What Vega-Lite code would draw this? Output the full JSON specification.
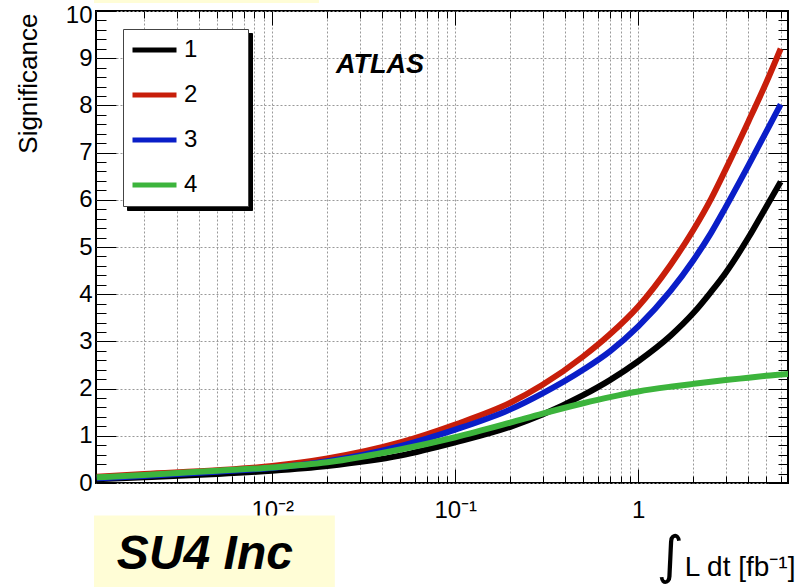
{
  "$schema": "https://vega.github.io/schema/vega-lite/v6.json",
  "width": 692,
  "height": 472,
  "autosize": {"type": "none"},
  "padding": {"left": 96, "top": 11, "right": 11, "bottom": 104},
  "background": "white",
  "config": {"view": {"stroke": "black", "strokeWidth": 2}, "font": "Liberation Sans"},
  "data": {"values": [
    {"series": "1", "x": 0.0011, "s": 0.08},
    {"series": "1", "x": 0.002, "s": 0.12},
    {"series": "1", "x": 0.005, "s": 0.19},
    {"series": "1", "x": 0.01, "s": 0.26},
    {"series": "1", "x": 0.02, "s": 0.36},
    {"series": "1", "x": 0.05, "s": 0.58},
    {"series": "1", "x": 0.1, "s": 0.86},
    {"series": "1", "x": 0.2, "s": 1.19},
    {"series": "1", "x": 0.3, "s": 1.45},
    {"series": "1", "x": 0.5, "s": 1.86},
    {"series": "1", "x": 0.7, "s": 2.18},
    {"series": "1", "x": 1.0, "s": 2.58},
    {"series": "1", "x": 1.5, "s": 3.12},
    {"series": "1", "x": 2.0, "s": 3.6},
    {"series": "1", "x": 2.5, "s": 4.05},
    {"series": "1", "x": 3.0, "s": 4.45},
    {"series": "1", "x": 4.0, "s": 5.2},
    {"series": "1", "x": 5.0, "s": 5.85},
    {"series": "1", "x": 6.0, "s": 6.38},
    {"series": "2", "x": 0.0011, "s": 0.13},
    {"series": "2", "x": 0.002, "s": 0.19},
    {"series": "2", "x": 0.005, "s": 0.27},
    {"series": "2", "x": 0.01, "s": 0.36},
    {"series": "2", "x": 0.02, "s": 0.52},
    {"series": "2", "x": 0.05, "s": 0.86},
    {"series": "2", "x": 0.1, "s": 1.24},
    {"series": "2", "x": 0.2, "s": 1.70},
    {"series": "2", "x": 0.3, "s": 2.08},
    {"series": "2", "x": 0.5, "s": 2.68},
    {"series": "2", "x": 0.7, "s": 3.15},
    {"series": "2", "x": 1.0, "s": 3.74},
    {"series": "2", "x": 1.5, "s": 4.62},
    {"series": "2", "x": 2.0, "s": 5.36},
    {"series": "2", "x": 2.5, "s": 6.02},
    {"series": "2", "x": 3.0, "s": 6.64},
    {"series": "2", "x": 4.0, "s": 7.66},
    {"series": "2", "x": 5.0, "s": 8.48},
    {"series": "2", "x": 6.0, "s": 9.2},
    {"series": "3", "x": 0.0011, "s": 0.10},
    {"series": "3", "x": 0.002, "s": 0.15},
    {"series": "3", "x": 0.005, "s": 0.24},
    {"series": "3", "x": 0.01, "s": 0.32},
    {"series": "3", "x": 0.02, "s": 0.46},
    {"series": "3", "x": 0.05, "s": 0.78},
    {"series": "3", "x": 0.1, "s": 1.13},
    {"series": "3", "x": 0.2, "s": 1.56},
    {"series": "3", "x": 0.3, "s": 1.90},
    {"series": "3", "x": 0.5, "s": 2.40},
    {"series": "3", "x": 0.7, "s": 2.79},
    {"series": "3", "x": 1.0, "s": 3.32},
    {"series": "3", "x": 1.5, "s": 4.07},
    {"series": "3", "x": 2.0, "s": 4.72},
    {"series": "3", "x": 2.5, "s": 5.3},
    {"series": "3", "x": 3.0, "s": 5.84},
    {"series": "3", "x": 4.0, "s": 6.73},
    {"series": "3", "x": 5.0, "s": 7.44},
    {"series": "3", "x": 6.0, "s": 8.02},
    {"series": "4", "x": 0.0011, "s": 0.12},
    {"series": "4", "x": 0.002, "s": 0.17},
    {"series": "4", "x": 0.005, "s": 0.26},
    {"series": "4", "x": 0.01, "s": 0.33},
    {"series": "4", "x": 0.02, "s": 0.44},
    {"series": "4", "x": 0.05, "s": 0.71},
    {"series": "4", "x": 0.1, "s": 0.97},
    {"series": "4", "x": 0.2, "s": 1.28},
    {"series": "4", "x": 0.3, "s": 1.47},
    {"series": "4", "x": 0.5, "s": 1.69},
    {"series": "4", "x": 0.7, "s": 1.82},
    {"series": "4", "x": 1.0, "s": 1.94},
    {"series": "4", "x": 1.5, "s": 2.04},
    {"series": "4", "x": 2.0, "s": 2.10},
    {"series": "4", "x": 3.0, "s": 2.18},
    {"series": "4", "x": 4.0, "s": 2.23},
    {"series": "4", "x": 5.0, "s": 2.27},
    {"series": "4", "x": 6.6, "s": 2.31}
  ]},
  "layer": [
    {
      "data": {"values": [{}]},
      "mark": {"type": "rect", "color": "#fffdd6"},
      "encoding": {
        "x": {"datum": 0.001062, "type": "quantitative", "scale": {"type": "log", "domain": [0.001089, 6.58], "nice": false}, "axis": null},
        "x2": {"datum": 0.02198},
        "y": {"datum": -0.688, "type": "quantitative", "scale": {"domain": [0, 10], "nice": false, "zero": false}, "axis": null},
        "y2": {"datum": -2.4}
      }
    },
    {
      "data": {"values": [{}]},
      "mark": {"type": "rect", "color": "#fffdd6"},
      "encoding": {
        "x": {"datum": 0.001062, "type": "quantitative", "scale": {"type": "log", "domain": [0.001089, 6.58], "nice": false}, "axis": null},
        "x2": {"datum": 0.018},
        "y": {"datum": 10.17, "type": "quantitative", "scale": {"domain": [0, 10], "nice": false, "zero": false}, "axis": null},
        "y2": {"datum": 10.5}
      }
    },
    {
      "mark": {"type": "line", "strokeWidth": 6, "interpolate": "monotone", "clip": true},
      "encoding": {
        "x": {
          "field": "x", "type": "quantitative",
          "scale": {"type": "log", "domain": [0.001089, 6.58], "nice": false},
          "axis": {
            "orient": "bottom",
            "values": [0.002, 0.003, 0.004, 0.005, 0.006, 0.007, 0.008, 0.009, 0.01, 0.02, 0.03, 0.04, 0.05, 0.06, 0.07, 0.08, 0.09, 0.1, 0.2, 0.3, 0.4, 0.5, 0.6, 0.7, 0.8, 0.9, 1, 2, 3, 4, 5, 6],
            "labelExpr": "datum.value == 0.01 ? '10⁻²' : datum.value == 0.1 ? '10⁻¹' : datum.value == 1 ? '1' : ''",
            "tickSize": {"condition": {"test": "datum.value == 0.01 || datum.value == 0.1 || datum.value == 1", "value": -14}, "value": -7},
            "tickColor": "black",
            "tickWidth": 1,
            "domain": false,
            "grid": true,
            "gridDash": [2, 2],
            "gridColor": "#999999",
            "gridWidth": 1,
            "labelFontSize": 24,
            "labelFont": "Liberation Sans",
            "labelColor": "black",
            "labelPadding": 29,
            "labelOverlap": false,
            "labelBound": false,
            "labelFlush": false,
            "title": null
          }
        },
        "y": {
          "field": "s", "type": "quantitative",
          "scale": {"domain": [0, 10], "nice": false, "zero": false},
          "axis": {
            "orient": "left",
            "values": [0, 0.2, 0.4, 0.6, 0.8, 1, 1.2, 1.4, 1.6, 1.8, 2, 2.2, 2.4, 2.6, 2.8, 3, 3.2, 3.4, 3.6, 3.8, 4, 4.2, 4.4, 4.6, 4.8, 5, 5.2, 5.4, 5.6, 5.8, 6, 6.2, 6.4, 6.6, 6.8, 7, 7.2, 7.4, 7.6, 7.8, 8, 8.2, 8.4, 8.6, 8.8, 9, 9.2, 9.4, 9.6, 9.8, 10],
            "labelExpr": "abs(datum.value - round(datum.value)) < 0.001 ? format(datum.value, 'd') : ''",
            "labelOffset": {"condition": {"test": "datum.value == 10", "value": 4}, "value": 0},
            "tickSize": {"condition": {"test": "abs(datum.value - round(datum.value)) < 0.001", "value": -20}, "value": -10},
            "gridOpacity": {"condition": {"test": "abs(datum.value - round(datum.value)) < 0.001", "value": 1}, "value": 0},
            "tickColor": "black",
            "tickWidth": 1,
            "domain": false,
            "grid": true,
            "gridDash": [2, 2],
            "gridColor": "#999999",
            "gridWidth": 1,
            "labelFontSize": 24,
            "labelFont": "Liberation Sans",
            "labelColor": "black",
            "labelPadding": 24,
            "labelOverlap": false,
            "labelBound": false,
            "labelFlush": false,
            "title": "Significance",
            "titleFont": "Liberation Sans",
            "titleFontSize": 26,
            "titleFontWeight": "normal",
            "titleColor": "black",
            "titleAngle": -90,
            "titleAlign": "right",
            "titleBaseline": "alphabetic",
            "titleAnchor": "end",
            "titleX": -60,
            "titleY": 2
          }
        },
        "color": {
          "field": "series", "type": "nominal",
          "scale": {"domain": ["1", "2", "3", "4"], "range": ["#000000", "#c81e0a", "#0a1ec8", "#3cb43c"]},
          "legend": {
            "orient": "none",
            "legendX": 27,
            "legendY": 18,
            "title": "___",
            "titleOrient": "right",
            "titleColor": "white",
            "titleFontSize": 24,
            "titlePadding": 1,
            "symbolType": "stroke",
            "symbolStrokeWidth": 5,
            "symbolSize": 1936,
            "symbolOffset": -2,
            "clipHeight": 24,
            "labelFontSize": 24,
            "labelFont": "Liberation Sans",
            "labelColor": "black",
            "labelOffset": 5,
            "fillColor": "white",
            "strokeColor": "#444444",
            "padding": 9,
            "rowPadding": 21,
            "zindex": 1
          }
        }
      }
    },
    {
      "mark": {"type": "point", "opacity": 0},
      "encoding": {
        "x": {
          "field": "x", "type": "quantitative",
          "scale": {"type": "log", "domain": [0.001089, 6.58], "nice": false},
          "axis": {
            "orient": "top",
            "values": [0.002, 0.003, 0.004, 0.005, 0.006, 0.007, 0.008, 0.009, 0.01, 0.02, 0.03, 0.04, 0.05, 0.06, 0.07, 0.08, 0.09, 0.1, 0.2, 0.3, 0.4, 0.5, 0.6, 0.7, 0.8, 0.9, 1, 2, 3, 4, 5, 6],
            "labels": false,
            "tickSize": {"condition": {"test": "datum.value == 0.01 || datum.value == 0.1 || datum.value == 1", "value": -14}, "value": -7},
            "tickColor": "black",
            "tickWidth": 1,
            "domain": false,
            "grid": false,
            "title": null
          }
        },
        "y": {
          "field": "s", "type": "quantitative",
          "scale": {"domain": [0, 10], "nice": false, "zero": false},
          "axis": {
            "orient": "right",
            "values": [0, 0.2, 0.4, 0.6, 0.8, 1, 1.2, 1.4, 1.6, 1.8, 2, 2.2, 2.4, 2.6, 2.8, 3, 3.2, 3.4, 3.6, 3.8, 4, 4.2, 4.4, 4.6, 4.8, 5, 5.2, 5.4, 5.6, 5.8, 6, 6.2, 6.4, 6.6, 6.8, 7, 7.2, 7.4, 7.6, 7.8, 8, 8.2, 8.4, 8.6, 8.8, 9, 9.2, 9.4, 9.6, 9.8, 10],
            "labels": false,
            "tickSize": {"condition": {"test": "abs(datum.value - round(datum.value)) < 0.001", "value": -20}, "value": -10},
            "tickColor": "black",
            "tickWidth": 1,
            "domain": false,
            "grid": false,
            "title": null
          }
        }
      }
    },
    {
      "data": {"values": [{"k": "1"}, {"k": "2"}, {"k": "3"}, {"k": "4"}]},
      "mark": {"type": "point", "opacity": 0},
      "encoding": {
        "fill": {
          "field": "k", "type": "nominal",
          "scale": {"range": ["#000000", "#000000", "#000000", "#000000"]},
          "legend": {
            "orient": "none",
            "legendX": 31,
            "legendY": 22,
            "title": "___",
            "titleOrient": "right",
            "titleColor": "black",
            "titleFontSize": 24,
            "titlePadding": 1,
            "symbolType": "stroke",
            "symbolStrokeWidth": 5,
            "symbolSize": 1936,
            "symbolOffset": -2,
            "clipHeight": 24,
            "labelFontSize": 24,
            "labelFont": "Liberation Sans",
            "labelColor": "black",
            "labelOffset": 5,
            "fillColor": "black",
            "strokeColor": "black",
            "padding": 9,
            "rowPadding": 21,
            "zindex": 0
          }
        }
      }
    },
    {
      "data": {"values": [{}]},
      "mark": {"type": "text", "text": "ATLAS", "font": "Liberation Sans", "fontSize": 27, "fontWeight": "bold", "fontStyle": "italic", "align": "center", "baseline": "alphabetic", "color": "black"},
      "encoding": {
        "x": {"datum": 0.0388, "type": "quantitative", "axis": null},
        "y": {"datum": 8.69, "type": "quantitative", "axis": null}
      }
    },
    {
      "data": {"values": [{}]},
      "mark": {"type": "text", "text": "SU4 Inc", "font": "Liberation Sans", "fontSize": 48, "fontWeight": "bold", "fontStyle": "italic", "align": "left", "baseline": "alphabetic", "color": "black"},
      "encoding": {
        "x": {"datum": 0.001416, "type": "quantitative", "axis": null},
        "y": {"datum": -1.83, "type": "quantitative", "axis": null}
      }
    },
    {
      "data": {"values": [{}]},
      "mark": {"type": "text", "text": "∫", "font": "DejaVu Sans", "fontSize": 52, "align": "center", "baseline": "middle", "color": "black"},
      "encoding": {
        "x": {"datum": 1.49, "type": "quantitative", "axis": null},
        "y": {"datum": -1.56, "type": "quantitative", "axis": null}
      }
    },
    {
      "data": {"values": [{}]},
      "mark": {"type": "text", "text": "L dt [fb⁻¹]", "font": "Liberation Sans", "fontSize": 28, "align": "left", "baseline": "alphabetic", "color": "black"},
      "encoding": {
        "x": {"datum": 1.796, "type": "quantitative", "axis": null},
        "y": {"datum": -1.98, "type": "quantitative", "axis": null}
      }
    }
  ],
  "resolve": {"axis": {"x": "independent", "y": "independent"}}
}
